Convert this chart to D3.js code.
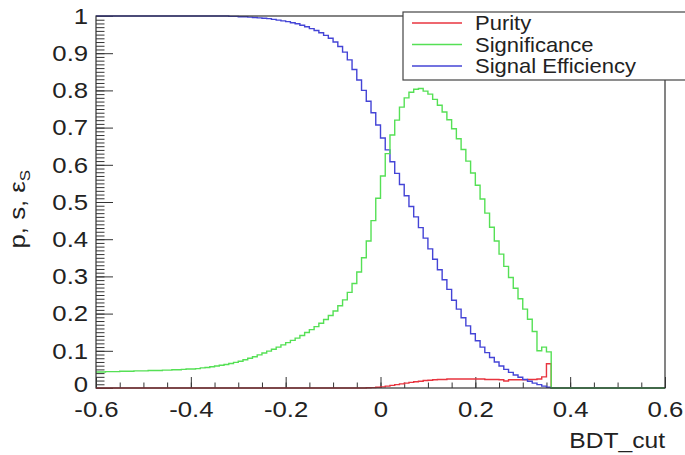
<!DOCTYPE html>
<html>
<head>
<meta charset="utf-8">
<script src="https://cdn.jsdelivr.net/npm/d3@7"></script>
<style>
  body { margin: 0; background: #fff; }
  svg { display: block; font-family: "Liberation Sans", Arial, sans-serif; }
</style>
</head>
<body>
<svg width="685" height="455"></svg>
<script>
// histogram bins: 120 bins of 0.01 from -0.6 to 0.6
const binStart = -0.6;
const binWidth = 0.01;

const purity = [
  0, 0, 0, 0, 0, 0, 0, 0, 0, 0,
  0, 0, 0, 0, 0, 0, 0, 0, 0, 0,
  0, 0, 0, 0, 0, 0, 0, 0, 0, 0,
  0, 0, 0, 0, 0, 0, 0, 0, 0, 0,
  0, 0, 0, 0, 0, 0, 0, 0, 0, 0,
  0, 0, 0, 0, 0, 0, 0, 0.0005, 0.001, 0.002,
  0.003, 0.005, 0.007, 0.009, 0.011, 0.013, 0.015, 0.017, 0.018, 0.020,
  0.021, 0.022, 0.023, 0.023, 0.024, 0.024, 0.024, 0.024, 0.024, 0.024,
  0.024, 0.024, 0.023, 0.023, 0.023, 0.022, 0.019, 0.022, 0.022, 0.022,
  0.022, 0.023, 0.023, 0.024, 0.030, 0.065, 0, 0, 0, 0,
  0, 0, 0, 0, 0, 0, 0, 0, 0, 0,
  0, 0, 0, 0, 0, 0, 0, 0, 0, 0
];

const significance = [
  0.043, 0.043, 0.044, 0.044, 0.044, 0.045, 0.045, 0.045, 0.046, 0.046,
  0.046, 0.047, 0.047, 0.047, 0.048, 0.048, 0.049, 0.049, 0.050, 0.051,
  0.051, 0.052, 0.054, 0.055, 0.057, 0.059, 0.061, 0.063, 0.066, 0.069,
  0.072, 0.076, 0.080, 0.084, 0.089, 0.094, 0.099, 0.104, 0.110, 0.116,
  0.122, 0.128, 0.134, 0.141, 0.149, 0.157, 0.165, 0.174, 0.184, 0.195,
  0.207, 0.221, 0.237, 0.257, 0.281, 0.312, 0.350, 0.395, 0.450, 0.510,
  0.570, 0.630, 0.680, 0.720, 0.755, 0.780, 0.795, 0.803, 0.805, 0.798,
  0.790, 0.776, 0.760, 0.742, 0.721, 0.697, 0.670, 0.641, 0.610, 0.578,
  0.545, 0.508, 0.470, 0.432, 0.395, 0.360, 0.327, 0.297, 0.268, 0.240,
  0.212, 0.185, 0.152, 0.100, 0.110, 0.097, 0, 0, 0, 0,
  0, 0, 0, 0, 0, 0, 0, 0, 0, 0,
  0, 0, 0, 0, 0, 0, 0, 0, 0, 0
];

const efficiency = [
  1, 1, 1, 1, 1, 1, 1, 1, 1, 1,
  1, 1, 1, 1, 1, 1, 1, 1, 1, 1,
  1, 1, 1, 1, 1, 1, 1, 1.000, 0.999, 0.999,
  0.998, 0.998, 0.997, 0.996, 0.995, 0.994, 0.993, 0.991, 0.989, 0.987,
  0.985, 0.982, 0.979, 0.975, 0.971, 0.966, 0.961, 0.955, 0.948, 0.940,
  0.930, 0.918, 0.903, 0.882, 0.856, 0.828, 0.800, 0.771, 0.740, 0.707,
  0.672, 0.640, 0.608, 0.577, 0.547, 0.517, 0.488, 0.460, 0.431, 0.403,
  0.374, 0.346, 0.318, 0.291, 0.265, 0.236, 0.212, 0.189, 0.167, 0.146,
  0.127, 0.110, 0.095, 0.082, 0.070, 0.059, 0.050, 0.042, 0.035, 0.029,
  0.023, 0.018, 0.013, 0.009, 0.005, 0.002, 0, 0, 0, 0,
  0, 0, 0, 0, 0, 0, 0, 0, 0, 0,
  0, 0, 0, 0, 0, 0, 0, 0, 0, 0
];

const xTicks = [-0.6, -0.4, -0.2, 0, 0.2, 0.4, 0.6];
const yTicks = [0, 0.1, 0.2, 0.3, 0.4, 0.5, 0.6, 0.7, 0.8, 0.9, 1];
const legendNames = ['Purity', 'Significance', 'Signal Efficiency'];
const colors = { 'Purity': '#e8343f', 'Significance': '#55e055', 'Signal Efficiency': '#4444d6' };

const svg = d3.select('svg');
const plotLeft = 96, plotTop = 16, plotRight = 665, plotBottom = 388;

const x = d3.scaleLinear().domain([-0.6, 0.6]).range([plotLeft, plotRight]);
const y = d3.scaleLinear().domain([0, 1]).range([plotBottom, plotTop]);

const fmt = d => String(+d.toFixed(1));
const stretch = 'scale(1.12,1)';

// minor ticks
svg.append('g')
  .attr('transform', `translate(${plotLeft},0)`)
  .call(d3.axisLeft(y).tickValues(d3.range(0, 1.001, 0.01)).tickSize(-8.5).tickFormat(''))
  .call(g => g.select('.domain').remove())
  .selectAll('line').attr('stroke', '#333');

svg.append('g')
  .attr('transform', `translate(0,${plotBottom})`)
  .call(d3.axisBottom(x).tickValues(d3.range(-0.6, 0.601, 0.05)).tickSize(-5.5).tickFormat(''))
  .call(g => g.select('.domain').remove())
  .selectAll('line').attr('stroke', '#333');

// major ticks + labels
const yAxis = svg.append('g')
  .attr('transform', `translate(${plotLeft},0)`)
  .call(d3.axisLeft(y).tickValues(yTicks).tickSize(-17).tickPadding(7).tickFormat(fmt));
yAxis.select('.domain').remove();
yAxis.selectAll('line').attr('stroke', '#333');
yAxis.selectAll('text')
  .attr('font-size', 23)
  .attr('font-family', '"Liberation Sans", Arial, sans-serif')
  .attr('fill', '#222')
  .attr('transform', stretch);
// the 0 label sits a bit above the axis so it clears the -0.6 below it
yAxis.selectAll('text').filter(d => d === 0).attr('dy', '0.13em');

const xAxis = svg.append('g')
  .attr('transform', `translate(0,${plotBottom})`)
  .call(d3.axisBottom(x).tickValues(xTicks).tickSize(-11).tickPadding(13).tickFormat(fmt));
xAxis.select('.domain').remove();
xAxis.selectAll('line').attr('stroke', '#333');
xAxis.selectAll('text')
  .attr('font-size', 23)
  .attr('font-family', '"Liberation Sans", Arial, sans-serif')
  .attr('fill', '#222')
  .attr('transform', stretch);

// histogram step lines
const stepLine = d3.line()
  .x(d => x(d[0]))
  .y(d => y(d[1]))
  .curve(d3.curveStepAfter);

function histPoints(values) {
  const pts = values.map((v, i) => [binStart + i * binWidth, v]);
  pts.push([binStart + values.length * binWidth, values[values.length - 1]]);
  return pts;
}

const drawOrder = [['Purity', purity], ['Signal Efficiency', efficiency], ['Significance', significance]];
drawOrder.forEach(([name, values]) => {
  svg.append('path')
    .attr('d', stepLine(histPoints(values)))
    .attr('fill', 'none')
    .attr('stroke', colors[name])
    .attr('stroke-width', 1.4);
});

// frame
svg.append('rect')
  .attr('x', plotLeft).attr('y', plotTop)
  .attr('width', plotRight - plotLeft).attr('height', plotBottom - plotTop)
  .attr('fill', 'none')
  .attr('stroke', '#333')
  .attr('stroke-width', 1.2);

// axis titles
svg.append('text')
  .attr('transform', `translate(${plotRight},448) ${stretch}`)
  .attr('text-anchor', 'end')
  .attr('font-size', 22)
  .attr('fill', '#222')
  .text('BDT_cut');

const yTitle = svg.append('text')
  .attr('transform', `translate(25,170) rotate(-90) ${stretch}`)
  .attr('text-anchor', 'end')
  .attr('font-size', 23)
  .attr('fill', '#222');
yTitle.append('tspan').text('p, s, \u03b5');
yTitle.append('tspan').attr('font-size', 15).attr('dy', 5).text('S');

// legend
const legend = svg.append('g');
legend.append('rect')
  .attr('x', 403).attr('y', 12)
  .attr('width', 300).attr('height', 68)
  .attr('fill', '#fff')
  .attr('stroke', '#444')
  .attr('stroke-width', 1.2);

legendNames.forEach((name, i) => {
  const ly = 23 + i * 21.5;
  legend.append('line')
    .attr('x1', 412).attr('x2', 462)
    .attr('y1', ly).attr('y2', ly)
    .attr('stroke', colors[name])
    .attr('stroke-width', 1.5);
  legend.append('text')
    .attr('transform', `translate(475,${ly + 7}) scale(1.1,1)`)
    .attr('font-size', 20)
    .attr('fill', '#222')
    .text(name);
});
</script>
</body>
</html>
